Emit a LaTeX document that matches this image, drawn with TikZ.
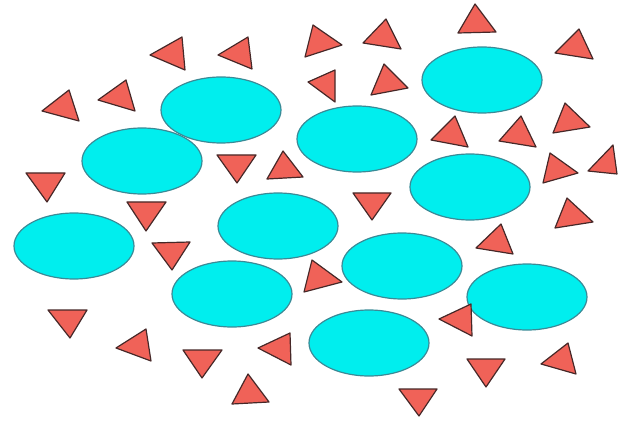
\documentclass[tikz,border=0pt]{standalone}
\usepackage{tikz}
\definecolor{cellfill}{RGB}{0,238,238}
\definecolor{celledge}{RGB}{58,138,150}
\definecolor{trifill}{RGB}{240,98,88}
\definecolor{triedge}{RGB}{70,40,40}
\tikzset{
  cell/.style ={fill=cellfill, draw=celledge, line width=1.2pt},
  tri/.style  ={fill=trifill, draw=triedge, line width=1.2pt, line join=round},
}
\begin{document}
\begin{tikzpicture}[x=1pt, y=-1pt]
  \useasboundingbox (0,0) rectangle (618,422);
  % cyan ellipses
  \foreach \cx/\cy in {221/110, 142/161, 482/80, 357/139, 470/187, 278/226,
                       74/246, 232/294, 402/266, 527/297, 369/343}
    \draw[cell] (\cx,\cy) ellipse [x radius=60, y radius=33];
  % red triangles
  \foreach \ax/\ay/\bx/\by/\qx/\qy in {
      150/55/182/37/185/70, 218/55/248/37/252/69, 42/111/69/90/79/121,
      98/100/126/80/135/111, 26/173/65/173/47/202, 217/155/256/155/237/183,
      267/179/303/177/283/151, 127/202/166/202/146/231, 152/243/190/242/172/270,
      313/25/342/45/305/57, 363/43/386/19/401/49, 458/33/475/4/496/32,
      555/53/579/29/593/59, 308/82/335/70/335/102, 371/95/384/64/408/88,
      431/140/455/116/468/147, 499/141/521/116/536/147, 553/133/565/103/590/127,
      543/183/550/153/578/173, 588/171/613/145/617/174, 353/193/391/193/372/220,
      555/228/567/198/593/222, 48/310/87/310/70/338, 116/348/146/329/151/361,
      183/350/222/350/202/378, 258/348/290/333/291/365, 232/404/248/374/269/402,
      304/292/312/260/342/282, 476/248/501/224/513/254, 439/319/471/304/472/336,
      467/359/505/359/486/387, 399/389/437/389/419/416, 541/364/568/343/576/374}
    \draw[tri] (\ax,\ay) -- (\bx,\by) -- (\qx,\qy) -- cycle;
\end{tikzpicture}
\end{document}
